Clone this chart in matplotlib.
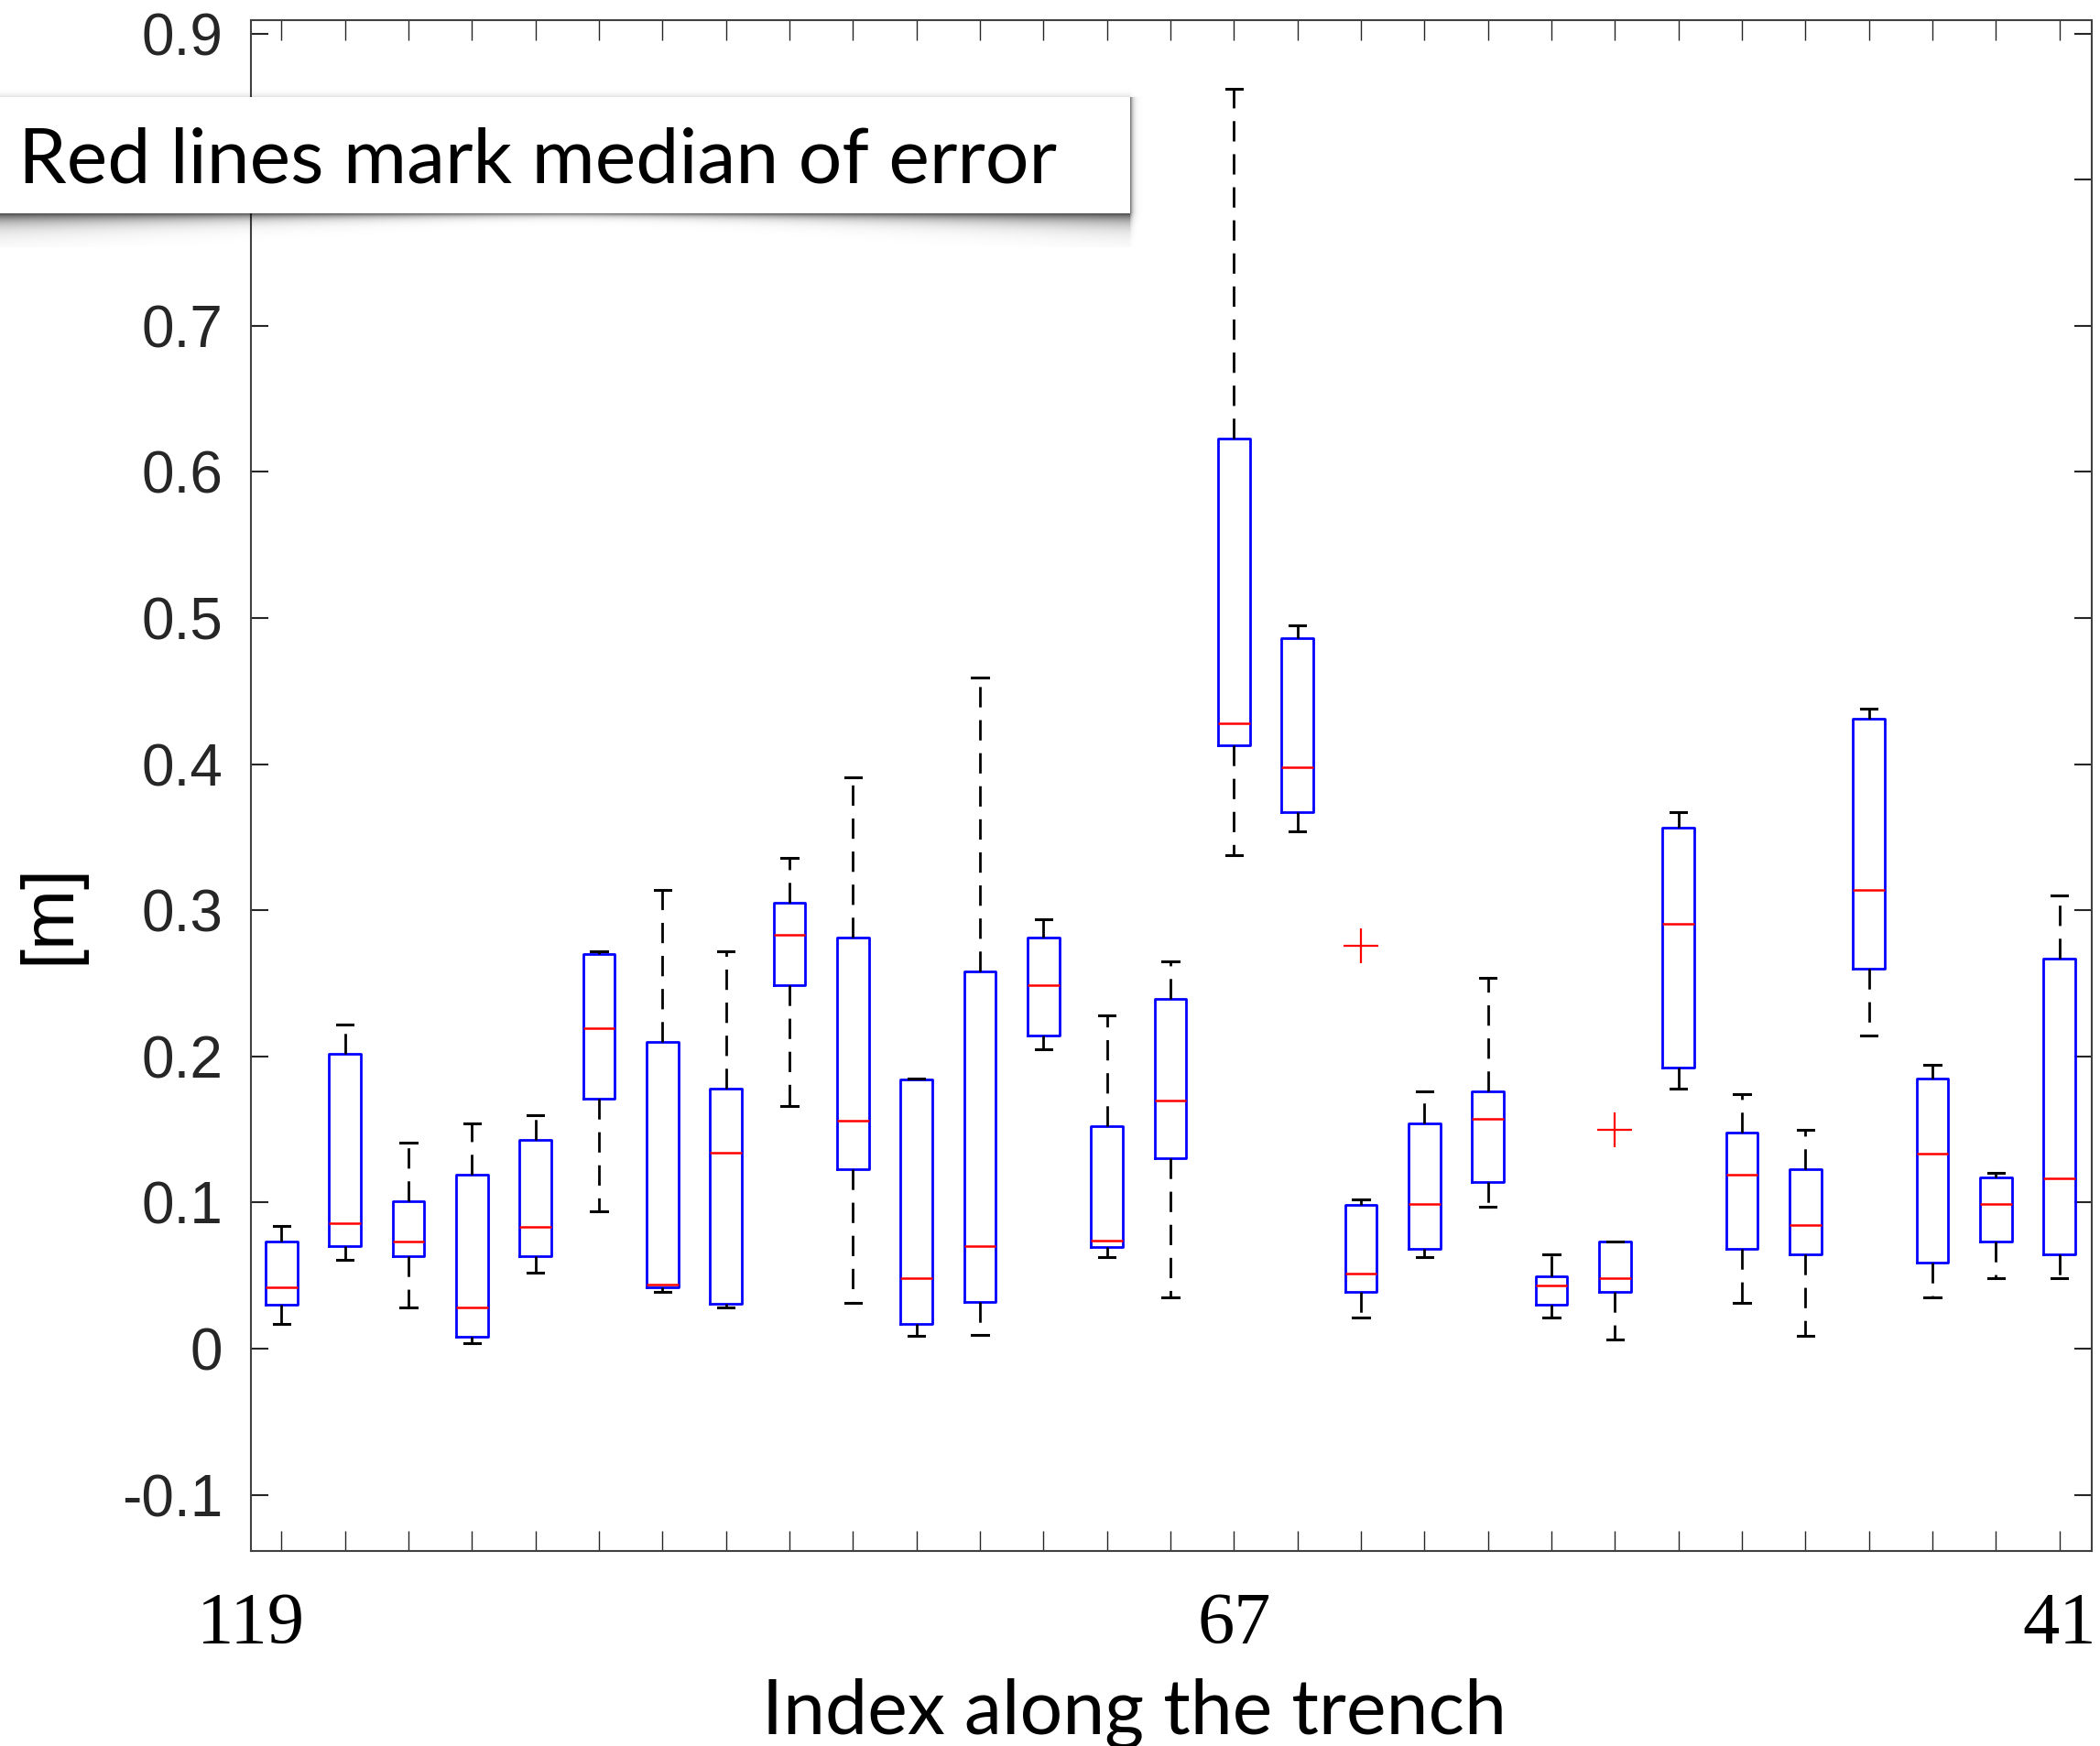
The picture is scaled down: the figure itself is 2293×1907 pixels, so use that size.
import matplotlib.pyplot as plt
import numpy as np
from matplotlib.transforms import blended_transform_factory

# box statistics, one entry per section along the trench
positions = list(range(1, 30))
whislo = [0.017, 0.061, 0.028, 0.004, 0.052, 0.094, 0.039, 0.028, 0.166, 0.0315,
          0.009, 0.0096, 0.205, 0.0625, 0.035, 0.338, 0.354, 0.021, 0.0625, 0.097,
          0.021, 0.006, 0.178, 0.031, 0.009, 0.214, 0.035, 0.048, 0.048]
q1 = [0.030, 0.070, 0.063, 0.008, 0.063, 0.171, 0.042, 0.0305, 0.249, 0.123,
      0.017, 0.032, 0.214, 0.0694, 0.130, 0.413, 0.367, 0.039, 0.068, 0.114,
      0.030, 0.039, 0.1925, 0.068, 0.0646, 0.260, 0.059, 0.073, 0.0646]
med = [0.042, 0.086, 0.0735, 0.028, 0.083, 0.219, 0.044, 0.134, 0.283, 0.156,
       0.048, 0.070, 0.2485, 0.074, 0.170, 0.428, 0.398, 0.0514, 0.099, 0.1575,
       0.0434, 0.048, 0.2906, 0.119, 0.0844, 0.314, 0.1335, 0.099, 0.1163]
q3 = [0.0735, 0.202, 0.101, 0.119, 0.143, 0.270, 0.210, 0.178, 0.305, 0.281,
      0.184, 0.258, 0.2815, 0.152, 0.2395, 0.623, 0.486, 0.0985, 0.154, 0.176,
      0.0496, 0.0735, 0.3566, 0.148, 0.1228, 0.431, 0.185, 0.1174, 0.267]
whishi = [0.084, 0.222, 0.141, 0.154, 0.160, 0.272, 0.314, 0.272, 0.336, 0.391,
          0.185, 0.459, 0.294, 0.228, 0.265, 0.862, 0.495, 0.102, 0.176, 0.254,
          0.0643, 0.0735, 0.367, 0.174, 0.150, 0.438, 0.194, 0.1205, 0.310]
outliers = {18: [0.2754], 22: [0.150]}

section_labels = ['119', '67', '41']
section_label_x = [0.52, 16, 29]
yticks = [-0.1, 0, 0.1, 0.2, 0.3, 0.4, 0.5, 0.6, 0.7, 0.8, 0.9]
# 0.8 sits under the note box, so it is left blank
ytick_labels = ['-0.1', '0', '0.1', '0.2', '0.3', '0.4', '0.5', '0.6', '0.7', '', '0.9']

W_PX, H_PX = 2293, 1907


def fit_width(fig, txt, target_px):
    r = fig.canvas.get_renderer()
    w = txt.get_window_extent(r).width
    txt.set_fontsize(txt.get_fontsize() * target_px / w)


fig = plt.figure(figsize=(W_PX / 100, H_PX / 100), dpi=100)
ax = fig.add_axes([0.1195, 0.1117, 0.8766, 0.8769])

stats = []
for i, p in enumerate(positions):
    stats.append(dict(whislo=whislo[i], q1=q1[i], med=med[i], q3=q3[i],
                      whishi=whishi[i], fliers=outliers.get(p, [])))

ax.bxp(stats, positions=positions, widths=0.5, manage_ticks=False,
       boxprops=dict(color='#0000ff', linewidth=2.0),
       medianprops=dict(color='#ff0000', linewidth=1.8),
       whiskerprops=dict(color='black', linewidth=2.0, linestyle=(0, (8, 5))),
       capprops=dict(color='black', linewidth=2.2),
       flierprops=dict(marker='+', markeredgecolor='#ff0000', markersize=27,
                       markeredgewidth=1.6, linestyle='none'))

ax.set_xlim(0.52, 29.51)
ax.set_ylim(-0.1385, 0.9093)
ax.set_xticks(positions)
ax.set_xticklabels([])
ax.set_yticks(yticks)
ax.set_yticklabels(ytick_labels, family='Liberation Sans', fontsize=46, color='#262626')
ax.tick_params(axis='x', direction='in', length=16, width=1.0, top=True,
               color='#262626')
ax.tick_params(axis='y', direction='in', length=14, width=1.5, right=True,
               color='#262626', pad=22)
for s in ax.spines.values():
    s.set_linewidth(1.5)
    s.set_color('#404040')

tr = blended_transform_factory(ax.transData, ax.transAxes)
for lab, x in zip(section_labels, section_label_x):
    ax.text(x, -0.0604, lab, transform=tr, ha='center', va='baseline',
            family='Liberation Serif', fontsize=58, color='black')

fig.text(55 / W_PX, 1 - 998 / H_PX, '[m]', rotation=90, ha='center', va='center',
         family='Liberation Sans', fontsize=57, color='black')

xl = fig.text(1239 / W_PX, 1 - 1893 / H_PX, 'Index along the trench', ha='center',
              va='baseline', family='Lato', fontsize=60, color='black')
fit_width(fig, xl, 815)

# white note box with a soft curled shadow, laid over the top left corner
ow, oh = 1265, 175
ov = fig.add_axes([0, 1 - 270 / H_PX, ow / W_PX, oh / H_PX])
ov.axis('off')
yy, xx = np.mgrid[0:oh, 0:ow]
bx1, by0, by1 = 1233, 11, 137
reach = 7 + 20 * np.abs(2 * xx / bx1 - 1) ** 1.5
dxr = np.clip(xx - bx1, 0, None)
dyb = np.clip(yy - by1, 0, None)
dyt = np.clip(by0 - yy, 0, None)
alpha = 0.75 * np.exp(-2.5 * dyb / reach - 3 * dxr / 8 - dyt / 3)
alpha = np.where(dyt > 0, alpha * 0.2, alpha)
rgba = np.zeros((oh, ow, 4))
rgba[..., 3] = alpha
inside = (xx <= bx1) & (yy >= by0) & (yy <= by1)
rgba[inside] = [1, 1, 1, 1]
ov.imshow(rgba, extent=(0, ow, oh, 0), aspect='auto', interpolation='bilinear')
ov.set_xlim(0, ow)
ov.set_ylim(oh, 0)

note = fig.text(20 / W_PX, 1 - 199 / H_PX, 'Red lines mark median of error', ha='left',
                va='baseline', family='Lato', fontsize=58, color='black', zorder=5)
fit_width(fig, note, 1135)

fig.savefig('out.png', dpi=100)
